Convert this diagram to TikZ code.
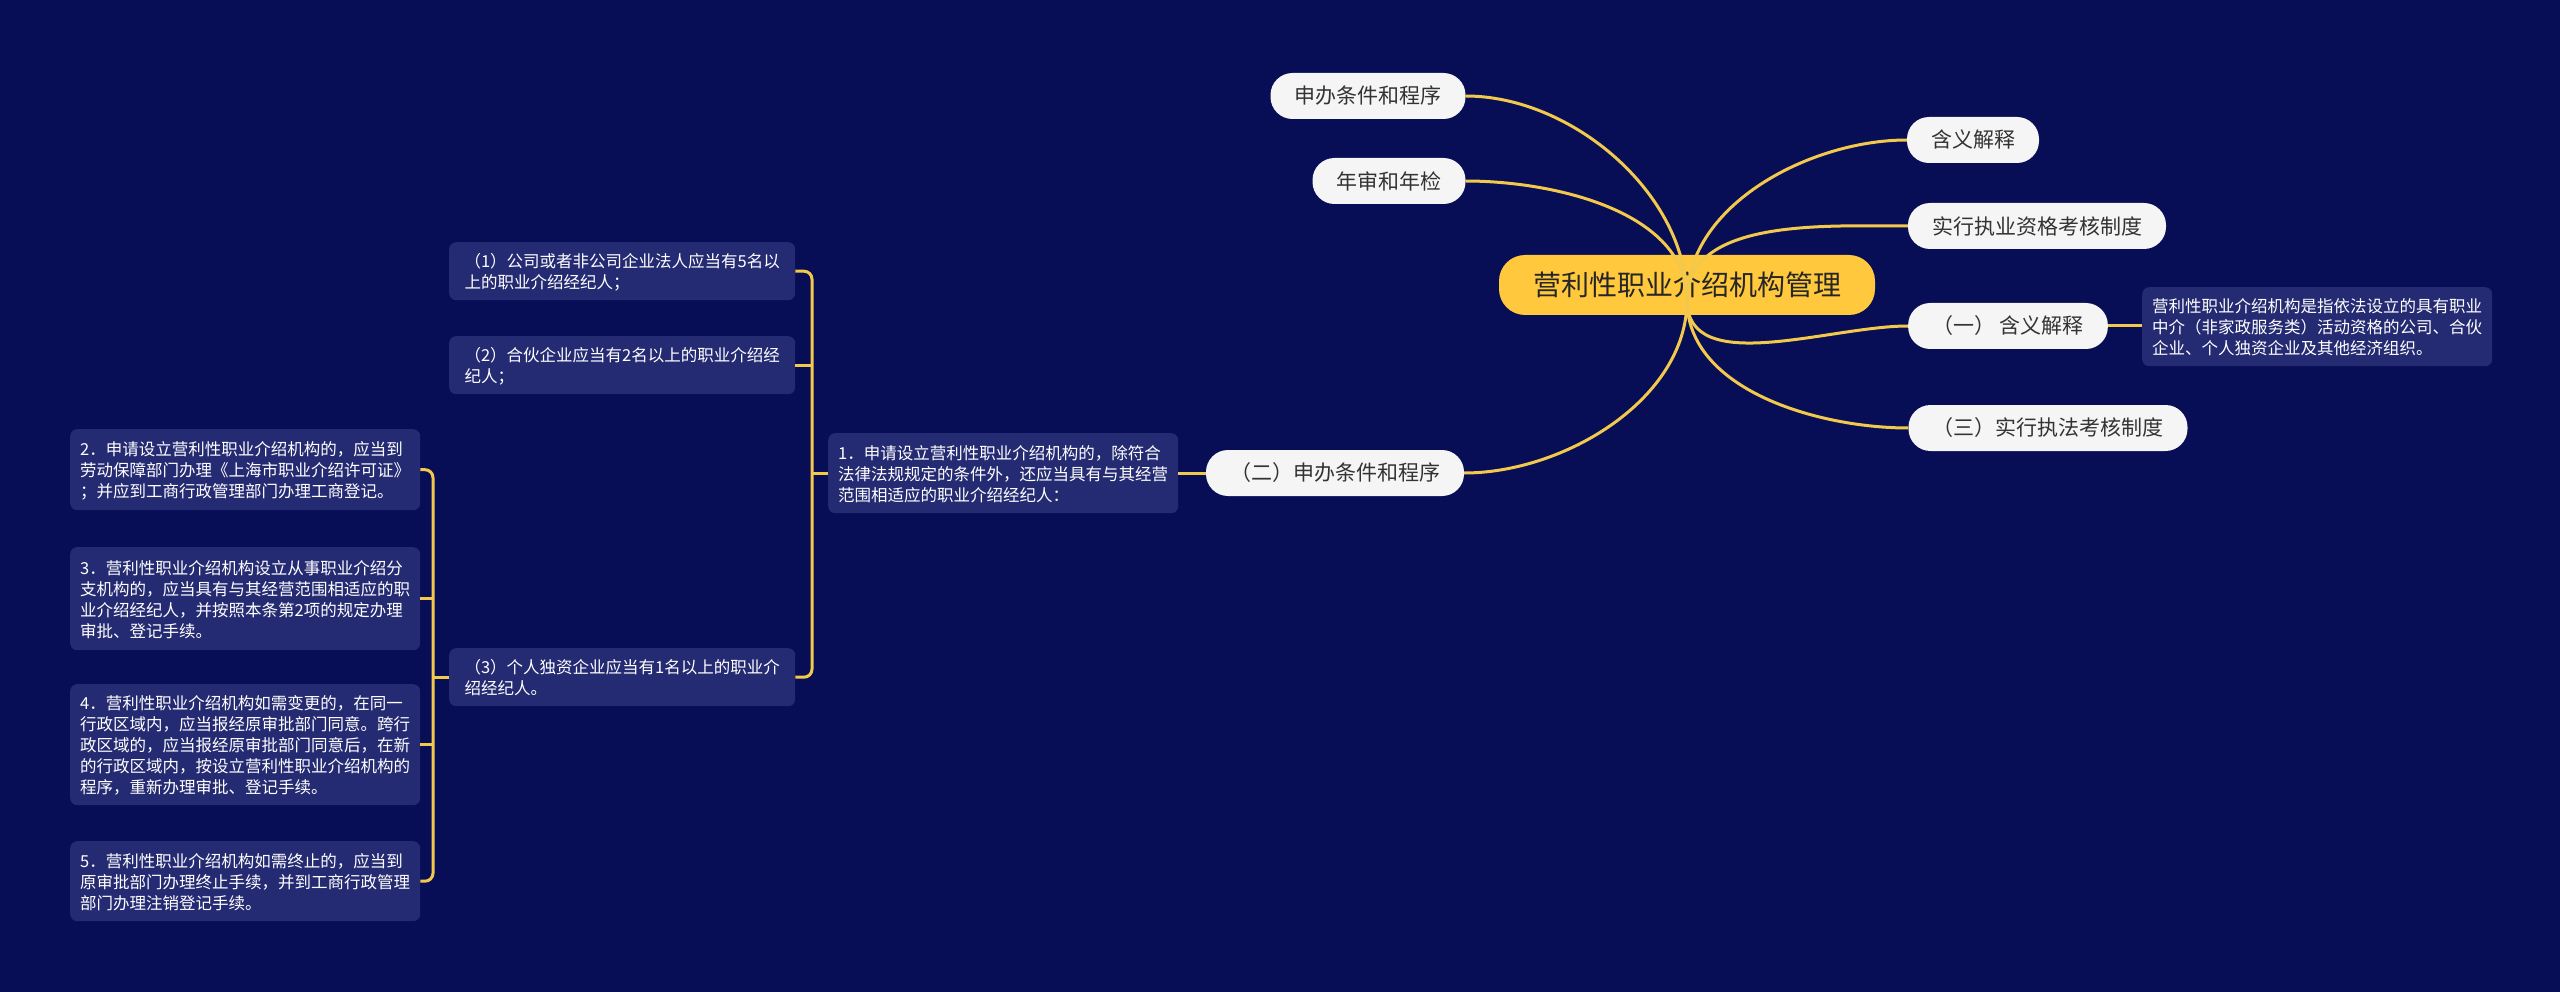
\documentclass[tikz,border=0pt]{standalone}
\usepackage{fontspec}
\setmainfont{Noto Sans CJK SC}
\usetikzlibrary{calc}
\definecolor{bg}{HTML}{070E55}
\definecolor{boxc}{HTML}{252B72}
\definecolor{ln}{HTML}{F2C94C}
\definecolor{rootc}{HTML}{FFC83D}
\definecolor{pillc}{HTML}{F5F5F5}
\tikzset{
  x=1pt,y=-1pt,
  conn/.style={draw=ln,line width=3pt},
  rootbox/.style={fill=rootc,rounded corners=26pt,minimum width=376pt,minimum height=60pt,font=\fontsize{28}{32}\selectfont,text=black!85},
  pill/.style={fill=pillc,rounded corners=22pt,minimum height=46pt,inner xsep=24pt,font=\fontsize{21}{25}\selectfont,text=black!80},
  tbox/.style={fill=boxc,rounded corners=7pt,anchor=north west,align=left,text=white,font=\fontsize{16.5}{21}\selectfont,inner xsep=10pt,inner ysep=8pt,text depth=0pt},
}
\begin{document}
\begin{tikzpicture}
\useasboundingbox[fill=bg] (0,0) rectangle (2560,992);
\node[rootbox] (root) at (1687,285) {营利性职业介绍机构管理};
\node[pill] (p1) at (1368,96) {申办条件和程序};
\node[pill] (p2) at (1389,181) {年审和年检};
\node[pill] (p3) at (1973,140) {含义解释};
\node[pill] (p4) at (2037,226) {实行执业资格考核制度};
\node[pill] (p5) at (2008,326) {（一） 含义解释};
\node[pill] (p6) at (2048,428) {（三）实行执法考核制度};
\node[pill] (p7) at (1335,473) {（二）申办条件和程序};
\node[tbox,minimum width=347pt,minimum height=79pt] (d) at (2142,287) {营利性职业介绍机构是指依法设立的具有职业\\中介（非家政服务类）活动资格的公司、合伙\\企业、个人独资企业及其他经济组织。};
\node[tbox,minimum width=345pt,minimum height=80pt] (n1) at (828,433) {1．申请设立营利性职业介绍机构的，除符合\\法律法规规定的条件外，还应当具有与其经营\\范围相适应的职业介绍经纪人：};
\node[tbox,minimum width=346pt,minimum height=58pt] (b1) at (449,242) {（1）公司或者非公司企业法人应当有5名以\\上的职业介绍经纪人；};
\node[tbox,minimum width=346pt,minimum height=58pt] (b2) at (449,336) {（2）合伙企业应当有2名以上的职业介绍经\\纪人；};
\node[tbox,minimum width=346pt,minimum height=58pt] (b3) at (449,648) {（3）个人独资企业应当有1名以上的职业介\\绍经纪人。};
\node[tbox,minimum width=348pt,minimum height=81pt] (c2) at (70,429) {2．申请设立营利性职业介绍机构的，应当到\\劳动保障部门办理《上海市职业介绍许可证》\\；并应到工商行政管理部门办理工商登记。};
\node[tbox,minimum width=348pt,minimum height=103pt] (c3) at (70,547) {3．营利性职业介绍机构设立从事职业介绍分\\支机构的，应当具有与其经营范围相适应的职\\业介绍经纪人，并按照本条第2项的规定办理\\审批、登记手续。};
\node[tbox,minimum width=348pt,minimum height=121pt] (c4) at (70,684) {4．营利性职业介绍机构如需变更的，在同一\\行政区域内，应当报经原审批部门同意。跨行\\政区域的，应当报经原审批部门同意后，在新\\的行政区域内，按设立营利性职业介绍机构的\\程序，重新办理审批、登记手续。};
\node[tbox,minimum width=348pt,minimum height=80pt] (c5) at (70,841) {5．营利性职业介绍机构如需终止的，应当到\\原审批部门办理终止手续，并到工商行政管理\\部门办理注销登记手续。};
\coordinate (rc) at (1687,300);
\draw[conn] (rc) to[out=90,in=0,looseness=0.9] (p1.east);
\draw[conn] (rc) to[out=90,in=0,looseness=0.9] (p2.east);
\draw[conn] (rc) to[out=90,in=180,looseness=0.9] (p3.west);
\draw[conn] (rc) to[out=90,in=180,looseness=0.9] (p4.west);
\draw[conn] (rc) to[out=-90,in=180,looseness=0.9] (p5.west);
\draw[conn] (rc) to[out=-90,in=180,looseness=0.9] (p6.west);
\draw[conn] (rc) to[out=-90,in=0,looseness=0.9] (p7.east);
\draw[conn] (p5.east) -- (p5.east -| d.west);
\draw[conn] (p7.west) -- (p7.west -| n1.east);
\coordinate (bx) at (812,473);
\draw[conn,rounded corners=8pt] (b1.east) -| ($(b3.east -| bx)$) -- (b3.east);
\draw[conn] (b2.east) -- (b2.east -| bx);
\draw[conn] (n1.west) -- (n1.west -| bx);
\coordinate (cx) at (433,677);
\draw[conn,rounded corners=8pt] (c2.east) -| ($(c5.east -| cx)$) -- (c5.east);
\draw[conn] (c3.east) -- (c3.east -| cx);
\draw[conn] (c4.east) -- (c4.east -| cx);
\draw[conn] (b3.west) -- (b3.west -| cx);
\end{tikzpicture}
\end{document}
